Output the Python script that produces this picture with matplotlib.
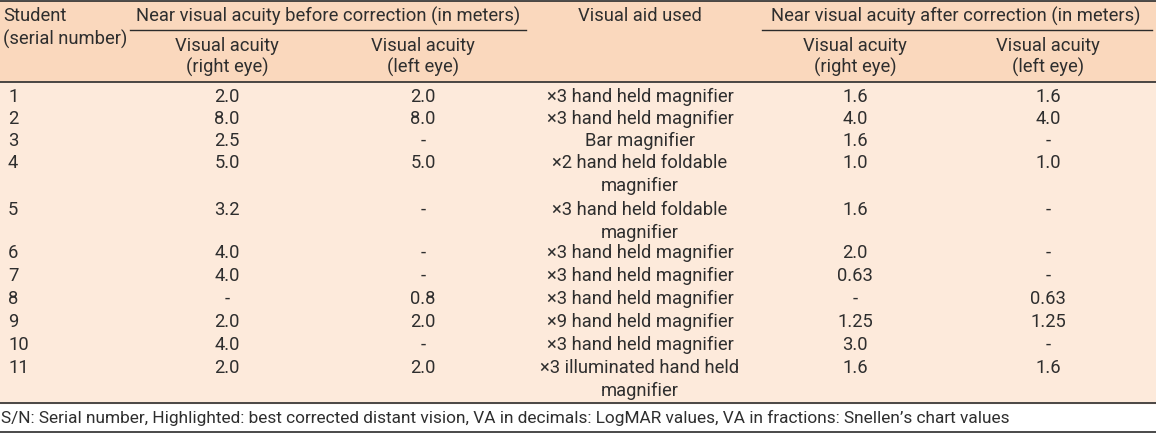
import matplotlib
matplotlib.use("Agg")
import matplotlib.pyplot as plt

# ── Table content ──────────────────────────────────────────────────────────────
students   = ["1", "2", "3", "4", "5", "6", "7", "8", "9", "10", "11"]
before_re  = ["2.0", "8.0", "2.5", "5.0", "3.2", "4.0", "4.0", "-", "2.0", "4.0", "2.0"]
before_le  = ["2.0", "8.0", "-", "5.0", "-", "-", "-", "0.8", "2.0", "-", "2.0"]
visual_aid = ["×3 hand held magnifier", "×3 hand held magnifier", "Bar magnifier",
              "×2 hand held foldable\nmagnifier", "×3 hand held foldable\nmagnifier",
              "×3 hand held magnifier", "×3 hand held magnifier", "×3 hand held magnifier",
              "×9 hand held magnifier", "×3 hand held magnifier",
              "×3 illuminated hand held\nmagnifier"]
after_re   = ["1.6", "4.0", "1.6", "1.0", "1.6", "2.0", "0.63", "-", "1.25", "3.0", "1.6"]
after_le   = ["1.6", "4.0", "-", "1.0", "-", "-", "-", "0.63", "1.25", "-", "1.6"]

footnote = ("S/N: Serial number, Highlighted: best corrected distant vision, "
            "VA in decimals: LogMAR values, VA in fractions: Snellen’s chart values")

W, H = 1156, 433
HEAD_BG = "#fad8bd"
BODY_BG = "#fdeadb"
LINE = "#2b2b2b"
TXT = "#2e2e2e"
FONT = "Roboto"
FS = 13.2

fig = plt.figure(figsize=(W / 100, H / 100), dpi=100, facecolor="white")
ax = fig.add_axes([0, 0, 1, 1])
ax.set_xlim(0, W); ax.set_ylim(H, 0); ax.axis("off")

# backgrounds
ax.add_patch(plt.Rectangle((0, 1), W, 81, color=HEAD_BG, zorder=0))
ax.add_patch(plt.Rectangle((0, 82), W, 321, color=BODY_BG, zorder=0))

# rules
for y in (1, 82, 403, 432):
    ax.plot([0, W], [y, y], color=LINE, lw=1.2, zorder=2)
ax.plot([130, 526], [30, 30], color=LINE, lw=1.0, zorder=2)
ax.plot([762, 1152], [30, 30], color=LINE, lw=1.0, zorder=2)

def txt(x, y, s, ha="center", va="center", fs=FS):
    ax.text(x, y, s, ha=ha, va=va, fontsize=fs, family=FONT, color=TXT,
            zorder=3)

col_x = [227, 423, 640, 855, 1048]

# header
txt(3, 16, "Student", ha="left")
txt(3, 39, "(serial number)", ha="left")
txt(328, 16, "Near visual acuity before correction (in meters)")
txt(col_x[2], 16, "Visual aid used")
txt(956, 16, "Near visual acuity after correction (in meters)")
for cx, eye in zip([col_x[0], col_x[1], col_x[3], col_x[4]],
                   ["right", "left", "right", "left"]):
    txt(cx, 46, "Visual acuity")
    txt(cx, 67, f"({eye} eye)")

# body rows
row_y = [97, 119, 141, 163, 210, 253, 276, 299, 322, 345, 368]
line_h = 23
for i, y in enumerate(row_y):
    txt(8, y, students[i], ha="left")
    txt(col_x[0], y, before_re[i])
    txt(col_x[1], y, before_le[i])
    for k, part in enumerate(visual_aid[i].split("\n")):
        txt(col_x[2], y + k * line_h, part)
    txt(col_x[3], y, after_re[i])
    txt(col_x[4], y, after_le[i])

txt(1, 418, footnote, ha="left", fs=12.4)

plt.savefig("out.png", dpi=100, facecolor="white")
plt.close()
